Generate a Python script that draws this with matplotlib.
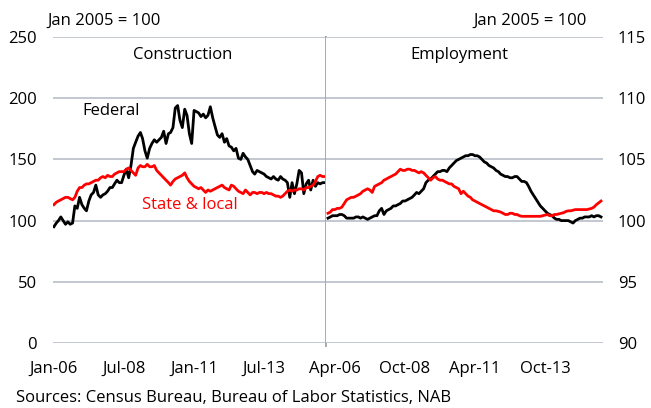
import numpy as np
import pandas as pd
import matplotlib
matplotlib.use("Agg")
from matplotlib import pyplot as plt
import matplotlib.dates as mdates

plt.rcParams['font.family'] = ['Open Sans', 'DejaVu Sans']

# construction, monthly from Jan-06 (Jan 2005 = 100)
con_federal = [95, 98, 100, 103, 100, 97, 99, 97, 98, 112,
               110, 119, 113, 110, 108, 116, 121, 123, 129, 121,
               119, 121, 122, 124, 127, 127, 130, 133, 131, 131,
               137, 142, 135, 145, 159, 164, 169, 172, 167, 157,
               151, 159, 163, 166, 164, 166, 168, 173, 163, 171,
               172, 176, 192, 194, 182, 176, 191, 186, 171, 163,
               190, 189, 188, 185, 187, 184, 186, 193, 184, 177,
               170, 168, 171, 164, 167, 161, 160, 157, 159, 151,
               150, 155, 152, 150, 145, 140, 138, 141, 140, 139,
               138, 136, 135, 134, 136, 134, 133, 136, 134, 133,
               131, 119, 131, 122, 130, 141, 139, 122, 130, 133,
               125, 133, 128, 131, 130, 131, 131]
con_state = [113, 115, 116, 117, 118, 119, 119, 118, 117, 119,
             124, 127, 127, 129, 130, 130, 131, 132, 133, 133,
             135, 136, 135, 137, 136, 136, 138, 139, 140, 140,
             140, 142, 143, 141, 139, 137, 143, 145, 144, 144,
             146, 144, 144, 145, 141, 139, 137, 135, 133, 131,
             129, 132, 134, 135, 136, 137, 139, 135, 132, 130,
             128, 127, 126, 127, 125, 123, 125, 124, 125, 126,
             127, 128, 129, 127, 126, 125, 129, 128, 126, 124,
             123, 122, 125, 123, 121, 123, 123, 122, 123, 123,
             122, 123, 122, 122, 121, 120, 120, 119, 120, 122,
             124, 125, 124, 125, 125, 126, 126, 125, 127, 127,
             128, 129, 132, 136, 137, 136, 136]

# employment, monthly from Jan-06 (Jan 2005 = 100)
emp_federal = [100.2, 100.3, 100.4, 100.4, 100.4, 100.5, 100.5, 100.4, 100.2, 100.2,
               100.2, 100.2, 100.3, 100.3, 100.2, 100.3, 100.2, 100.1, 100.2, 100.3,
               100.4, 100.4, 100.8, 101.0, 100.5, 100.8, 100.9, 101.0, 101.2, 101.2,
               101.3, 101.4, 101.6, 101.6, 101.7, 101.8, 101.9, 102.1, 102.3, 102.2,
               102.4, 102.6, 103.1, 103.3, 103.4, 103.6, 103.8, 104.0, 104.0, 104.1,
               104.1, 104.0, 104.3, 104.5, 104.7, 104.9, 105.0, 105.1, 105.2, 105.3,
               105.3, 105.4, 105.4, 105.3, 105.3, 105.2, 105.0, 104.8, 104.7, 104.5,
               104.4, 104.3, 104.1, 104.0, 103.8, 103.7, 103.6, 103.6, 103.5, 103.5,
               103.6, 103.6, 103.4, 103.2, 103.2, 103.1, 102.8, 102.4, 102.1, 101.8,
               101.5, 101.2, 101.0, 100.8, 100.6, 100.5, 100.4, 100.2, 100.1, 100.1,
               100.0, 100.0, 100.0, 100.0, 99.9, 99.8, 100.0, 100.1, 100.2, 100.2,
               100.3, 100.3, 100.3, 100.4, 100.3, 100.4, 100.4, 100.3]
emp_state = [100.6, 100.7, 100.9, 100.9, 101.0, 101.0, 101.1, 101.4, 101.7, 101.8,
             101.9, 101.9, 102.0, 102.1, 102.2, 102.4, 102.5, 102.6, 102.5, 102.3,
             102.8, 102.9, 103.0, 103.1, 103.3, 103.4, 103.5, 103.6, 103.7, 103.8,
             104.0, 104.2, 104.1, 104.1, 104.2, 104.2, 104.1, 104.1, 104.0, 103.9,
             104.0, 103.9, 103.7, 103.5, 103.3, 103.5, 103.6, 103.4, 103.3, 103.3,
             103.2, 103.1, 103.0, 103.0, 102.8, 102.7, 102.6, 102.2, 102.4, 102.2,
             102.0, 101.9, 101.7, 101.6, 101.5, 101.4, 101.3, 101.2, 101.1, 101.0,
             100.9, 100.8, 100.8, 100.75, 100.7, 100.6, 100.5, 100.5, 100.6, 100.6,
             100.5, 100.5, 100.4, 100.35, 100.35, 100.35, 100.35, 100.35, 100.35, 100.35,
             100.35, 100.35, 100.4, 100.45, 100.5, 100.4, 100.4, 100.5, 100.5, 100.55,
             100.6, 100.65, 100.75, 100.8, 100.8, 100.85, 100.9, 100.9, 100.9, 100.9,
             100.9, 100.9, 100.95, 101.0, 101.1, 101.3, 101.45, 101.6]

con_ticks = ['2006-01', '2008-07', '2011-01', '2013-07']
emp_ticks = ['2006-04', '2008-10', '2011-04', '2013-10']

W, H = 651, 408
fig = plt.figure(figsize=(W / 100, H / 100), dpi=100)
grid_c = '#B7BEC8'
fs = 12

x1 = pd.date_range('2006-01-01', periods=len(con_federal), freq='MS')
x2 = pd.date_range('2006-01-01', periods=len(emp_federal), freq='MS')

bottom, height = 1 - 343 / H, 306 / H
ax1 = fig.add_axes([53 / W, bottom, 273 / W, height])
ax2 = fig.add_axes([326 / W, bottom, 277 / W, height])

ax1.plot(x1, con_federal, color='black', lw=2)
ax1.plot(x1, con_state, color='#FF0000', lw=2)
ax2.plot(x2, emp_federal, color='black', lw=2)
ax2.plot(x2, emp_state, color='#FF0000', lw=2)

ax1.set_xlim(x1[0] - pd.Timedelta(days=12), x1[-1] + pd.Timedelta(days=15))
ax2.set_xlim(x2[0] - pd.Timedelta(days=26), x2[-1] + pd.Timedelta(days=26))
ax1.set_ylim(0, 250)
ax2.set_ylim(90, 115)
ax1.set_yticks(np.arange(0, 251, 50))
ax2.set_yticks(np.arange(90, 116, 5))
ax1.set_xticks(pd.to_datetime(con_ticks))
ax2.set_xticks(pd.to_datetime(emp_ticks))
for ax in (ax1, ax2):
    ax.xaxis.set_major_formatter(mdates.DateFormatter('%b-%y'))
    ax.grid(axis='y', color=grid_c, lw=1.2)
    ax.set_axisbelow(True)
    ax.tick_params(length=0, labelsize=fs)
    ax.tick_params(axis='x', pad=13)
    for s in ax.spines.values():
        s.set_visible(False)
ax1.tick_params(axis='y', pad=11.5)
ax2.yaxis.tick_right()
ax2.tick_params(axis='y', pad=10.8)

# divider between panels
ax1.plot([1, 1], [-0.01, 1], transform=ax1.transAxes, color='#A3AAB4',
         lw=1.4, clip_on=False)

ax1.text(0.476, 0.941, 'Construction', transform=ax1.transAxes,
         ha='center', va='center', fontsize=fs)
ax2.text(0.48, 0.941, 'Employment', transform=ax2.transAxes,
         ha='center', va='center', fontsize=fs)
ax1.text(0.106, 0.758, 'Federal', transform=ax1.transAxes,
         ha='left', va='center', fontsize=fs)
ax1.text(0.326, 0.451, 'State & local', transform=ax1.transAxes,
         ha='left', va='center', fontsize=fs, color='#FF0000')

fig.text(47 / W, 1 - 21 / H, 'Jan 2005 = 100', ha='left', va='center', fontsize=fs)
fig.text(587 / W, 1 - 21 / H, 'Jan 2005 = 100', ha='right', va='center', fontsize=fs)
fig.text(16 / W, 1 - 398 / H, 'Sources: Census Bureau, Bureau of Labor Statistics, NAB',
         ha='left', va='center', fontsize=fs)

fig.savefig('out.png', dpi=100)
